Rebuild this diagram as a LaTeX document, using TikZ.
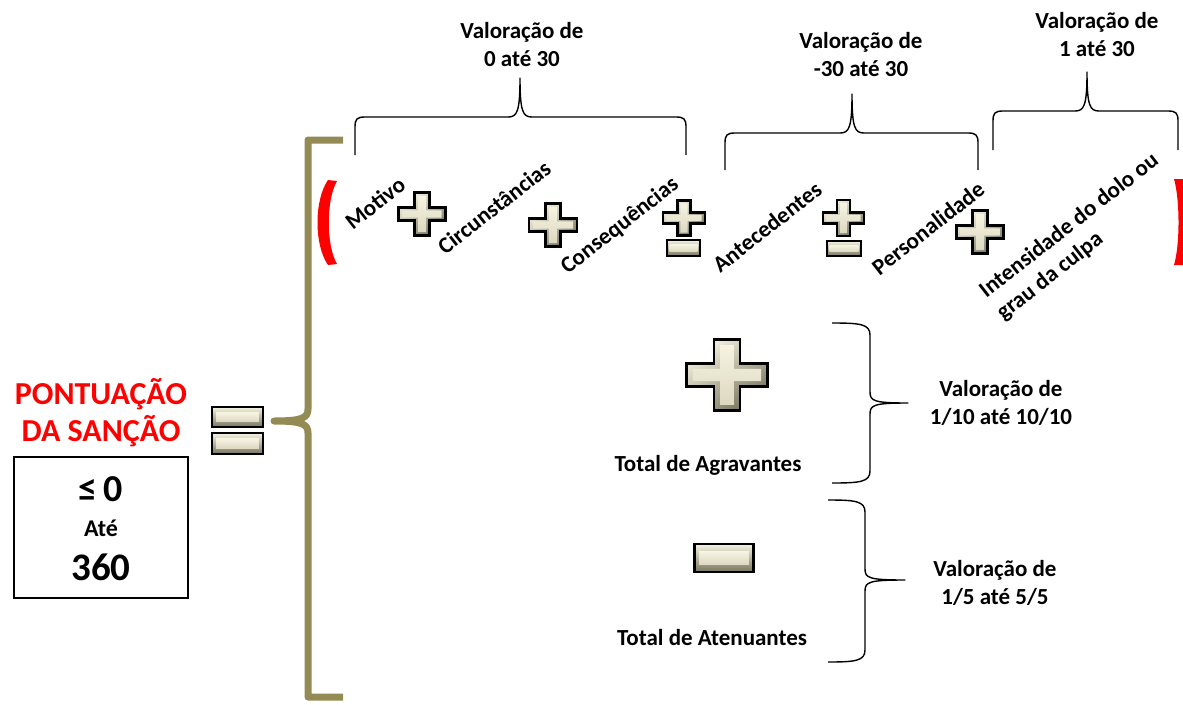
\documentclass[tikz,border=0pt]{standalone}
\usepackage{fontspec}
\setmainfont{Carlito}

\definecolor{olivebar}{HTML}{948A54}
\definecolor{iconlight}{HTML}{F6F3E2}
\definecolor{iconface}{HTML}{DCD8C1}
\definecolor{icondark}{HTML}{77745F}

\tikzset{
  lbl/.style={font=\bfseries\fontsize{23}{28}\selectfont, align=center, inner sep=0pt},
  slant/.style={lbl, rotate=38},
  thinbrace/.style={draw, line width=1.4pt, line join=round},
  olivebrace/.style={draw=olivebar, line width=7pt, line join=round},
  crossp/.style 2 args={insert path={(-#1,-#2) -- (-#2,-#2) -- (-#2,-#1) -- (#2,-#1) -- (#2,-#2) -- (#1,-#2) -- (#1,#2) -- (#2,#2) -- (#2,#1) -- (-#2,#1) -- (-#2,#2) -- (-#1,#2) -- cycle}},
  crossicon/.pic={
    \shade[top color=iconlight, bottom color=icondark, shading angle=35, crossp={1}{.32}];
    \shade[top color=iconlight, bottom color=iconface, crossp={.84}{.17}];
    \draw[line width=2.8pt, line join=miter, crossp={1}{.32}];
  },
  baricon/.pic={
    \shade[top color=iconlight, bottom color=icondark] (-1,-1) rectangle (1,1);
    \shade[top color=iconlight, bottom color=iconface] (-.84,-.45) rectangle (.84,.45);
    \draw[line width=2.8pt] (-1,-1) rectangle (1,1);
  }
}

\begin{document}
\begin{tikzpicture}[x=1pt, y=-1pt]
\useasboundingbox (0,0) rectangle (1183,704);

% score on the left
\node[lbl, text=red, font=\bfseries\fontsize{32}{37}\selectfont] (score) at (101,413) {PONTUAÇÃO\\DA SANÇÃO};
\node[draw, line width=1.3pt, minimum width=174, minimum height=141, inner sep=0pt] (range) at (101,527.5) {};
\node[lbl, font=\bfseries\fontsize{38}{42}\selectfont] (lo) at (101,489) {≤\,0};
\node[lbl, font=\bfseries\fontsize{24}{28}\selectfont] (ate) at (101,528) {Até};
\node[lbl, font=\bfseries\fontsize{39}{42}\selectfont] (hi) at (101,567) {360};

\pic[xscale=25.5, yscale=10] (eqtop) at (237.5,417) {baricon};
\pic[xscale=25.5, yscale=10.5] (eqbot) at (237.5,443.5) {baricon};

% big brace
\draw[olivebrace] (343,140) -- (308,140) -- (308,409) .. controls (308,418) and (302,421) .. (274,421)
  .. controls (302,421) and (308,424) .. (308,433) -- (308,697) -- (343,697);

% parentheses
\fill[red] (328,180) .. controls (314,200) and (314,245) .. (328,265) -- (337,264)
  .. controls (326,245) and (326,200) .. (337,181) -- cycle;
\fill[red] (1174,179) .. controls (1180,200) and (1180,245) .. (1174,265) -- (1190,265) -- (1190,179) -- cycle;

% factors
\node[slant] (motivo) at (375,203) {Motivo};
\node[slant] (circ) at (494,207) {Circunstâncias};
\node[slant] (cons) at (620,226) {Consequências};
\node[slant] (ante) at (767,227) {Antecedentes};
\node[slant] (pers) at (928,228) {Personalidade};
\node[slant, align=left] (inten) at (1078,237) {Intensidade do dolo ou\\grau da culpa};

\pic[xscale=23.5, yscale=21.5] (plusa) at (422,214) {crossicon};
\pic[xscale=24, yscale=21.5] (plusb) at (553,225) {crossicon};
\pic[xscale=21, yscale=17.5] (pma) at (684,218) {crossicon};
\pic[xscale=16.5, yscale=8] (pmaminus) at (683.5,248) {baricon};
\pic[xscale=20.5, yscale=18] (pmb) at (843.5,218) {crossicon};
\pic[xscale=17, yscale=7.5] (pmbminus) at (844,248.5) {baricon};
\pic[xscale=23.5, yscale=21.5] (plusc) at (980,232) {crossicon};

% top braces
\foreach \xa/\xb/\yh/\yb/\xt/\yt in {355/686/117/155/520/78, 725/978/133/170/852/94, 993/1178/111/150/1087/72}
  \draw[thinbrace] (\xa,\yb) -- (\xa,\yh+10) .. controls (\xa,\yh+2) and (\xa+2,\yh) .. (\xa+10,\yh)
    -- (\xt-12,\yh) .. controls (\xt-3,\yh) and (\xt,\yh-5) .. (\xt,\yt)
    .. controls (\xt,\yh-5) and (\xt+3,\yh) .. (\xt+12,\yh)
    -- (\xb-10,\yh) .. controls (\xb-2,\yh) and (\xb,\yh+2) .. (\xb,\yh+10) -- (\xb,\yb);

\node[lbl] (vala) at (522,45) {Valoração de\\0 até 30};
\node[lbl] (valb) at (861,55) {Valoração de\\-30 até 30};
\node[lbl] (valc) at (1097,35) {Valoração de\\1 até 30};

% aggravating and mitigating
\pic[xscale=40.5, yscale=35.5] (plusbig) at (727,375) {crossicon};
\node[lbl] (agr) at (708,465) {Total de Agravantes};
\pic[xscale=29.5, yscale=14] (minusbig) at (724,558) {baricon};
\node[lbl] (aten) at (712,638) {Total de Atenuantes};

\foreach \xl/\xv/\yt/\yb/\xt/\ym in {832/870/323/483/908/403, 828/865/500/662/905/580}
  \draw[thinbrace] (\xl,\yt) .. controls (\xv-10,\yt) and (\xv,\yt+1) .. (\xv,\yt+12)
    -- (\xv,\ym-11) .. controls (\xv,\ym-2) and (\xv+4,\ym) .. (\xt,\ym)
    .. controls (\xv+4,\ym) and (\xv,\ym+2) .. (\xv,\ym+11)
    -- (\xv,\yb-12) .. controls (\xv,\yb-1) and (\xv-10,\yb) .. (\xl,\yb);

\node[lbl] (valagr) at (1001,403) {Valoração de\\1/10 até 10/10};
\node[lbl] (valaten) at (995,583) {Valoração de\\1/5 até 5/5};
\end{tikzpicture}
\end{document}
